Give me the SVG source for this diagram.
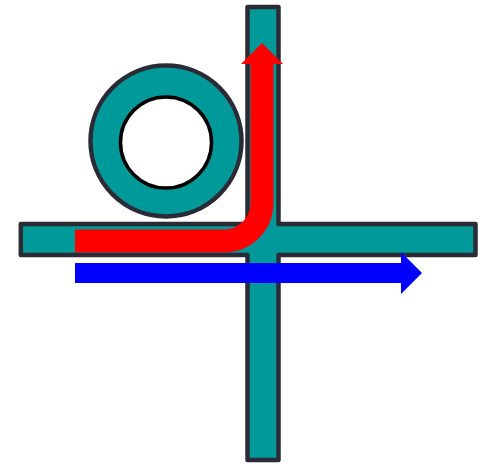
<svg xmlns="http://www.w3.org/2000/svg" width="479" height="464" viewBox="0 0 479 464">
  <style>
    .pipe { fill: #009999; stroke: #2b2b36; stroke-width: 4.5; stroke-linejoin: round; }
    .hole { fill: #ffffff; stroke: #000000; stroke-width: 3.5; }
    .red { fill: none; stroke: #ff0000; stroke-width: 23; }
    .blue { fill: none; stroke: #0000ff; stroke-width: 20; }
  </style>
  <rect width="479" height="464" fill="#ffffff"/>
  <g id="cross">
    <path class="pipe" d="M247.5,7 H278.5 V224 H475.5 V255 H278.5 V460 H247.5 V255 H20.8 V224 H247.5 Z"/>
  </g>
  <g id="ring">
    <circle class="pipe" cx="166" cy="141" r="75.5"/>
    <circle class="hole" cx="166" cy="142.5" r="45.5"/>
  </g>
  <g id="connectors">
    <path class="red" d="M75,241 H224 A38,38 0 0 0 262,203 V62"/>
    <polygon fill="#ff0000" points="241,64 262,43 283,64"/>
    <path class="blue" d="M75,273 H402"/>
    <polygon fill="#0000ff" points="401,252 422,273 401,294"/>
  </g>
</svg>
